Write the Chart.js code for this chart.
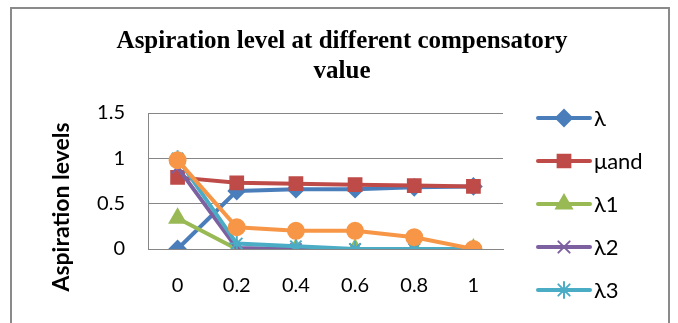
<!DOCTYPE html>
<html lang="en">
<head>
  <meta charset="UTF-8">
  <title>Aspiration level at different compensatory value</title>
  <script src="https://cdn.jsdelivr.net/npm/chart.js"></script>
  <style>
    html, body { margin: 0; padding: 0; background: #fff; overflow: hidden; }
    #frame { position: absolute; left: 10px; top: 7px; width: 656px; height: 340px; border: 2px solid #8a8a8a; }
    #wrap { position: absolute; left: 0; top: 0; width: 678px; height: 323px; }
  </style>
</head>
<body>
<div id="frame"></div>
<div id="wrap"><canvas id="chart" width="678" height="323"></canvas></div>

<script>
  // values
  const categories = ['0', '0.2', '0.4', '0.6', '0.8', '1'];
  const lambda   = [0, 0.64, 0.66, 0.66, 0.68, 0.69];
  const muAnd    = [0.79, 0.73, 0.72, 0.71, 0.70, 0.69];
  const lambda1  = [0.34, 0, 0, 0, 0, 0];
  const lambda2  = [0.90, 0.01, 0, 0, 0, 0];
  const lambda3  = [1.0, 0.06, 0.03, 0, 0, 0];
  const lambda4  = [0.98, 0.24, 0.20, 0.20, 0.13, 0];
  const yTicks   = [0, 0.5, 1, 1.5];
  const titleLines = ['Aspiration level at different compensatory', 'value'];
  const yTitle = 'Aspiration levels';

  const tickFont = 'Lato, "Open Sans", sans-serif';

  const series = [
    { label: 'λ',    data: lambda,  color: '#4a7ebb', point: 'rectRot',  r: 8 },
    { label: 'μand', data: muAnd,   color: '#be4b48', point: 'rect',     r: 9 },
    { label: 'λ1',   data: lambda1, color: '#98b954', point: 'triangle', r: 9 },
    { label: 'λ2',   data: lambda2, color: '#7d60a0', point: 'crossRot', r: 8 },
    { label: 'λ3',   data: lambda3, color: '#4bacc6', point: 'star',     r: 8 },
    { label: 'λ4',   data: lambda4, color: '#f79646', point: 'circle',   r: 8 },
  ];

  // title, y title and the side legend drawn by hand
  const extras = {
    id: 'extras',
    afterDraw(chart) {
      const ctx = chart.ctx;
      ctx.save();

      ctx.fillStyle = '#000';
      ctx.font = 'bold 25px "Liberation Serif", "Times New Roman", serif';
      ctx.textAlign = 'center';
      ctx.textBaseline = 'alphabetic';
      titleLines.forEach((t, i) => ctx.fillText(t, 342, 48 + i * 30));

      // legend: line with marker in the middle, only 5 entries fit
      const x0 = 538, x1 = 590, top = 118, step = 43;
      ctx.textAlign = 'left';
      series.slice(0, 5).forEach((s, i) => {
        const y = top + i * step;
        ctx.strokeStyle = s.color;
        ctx.lineWidth = 4;
        ctx.lineCap = 'round';
        ctx.beginPath();
        ctx.moveTo(x0, y);
        ctx.lineTo(x1, y);
        ctx.stroke();
        ctx.fillStyle = s.color;
        ctx.lineWidth = 2;
        Chart.helpers.drawPoint(ctx, { pointStyle: s.point, radius: s.r, rotation: 0, borderWidth: 2 }, (x0 + x1) / 2, y);
        ctx.fillStyle = '#000';
        ctx.font = '22px ' + tickFont;
        ctx.textBaseline = 'middle';
        ctx.fillText(s.label, x1 + 4, y + 1);
      });

      ctx.translate(62, 207);
      ctx.rotate(-Math.PI / 2);
      ctx.font = 'bold 23px ' + tickFont;
      ctx.textAlign = 'center';
      ctx.textBaseline = 'middle';
      ctx.fillText(yTitle, 0, 0);
      ctx.restore();
    }
  };

  new Chart(document.getElementById('chart'), {
    type: 'line',
    data: {
      labels: categories,
      datasets: series.map((s, i) => ({
        label: s.label,
        data: s.data,
        borderColor: s.color,
        backgroundColor: s.color,
        borderWidth: 4,
        pointStyle: s.point,
        pointRadius: s.r,
        pointBorderWidth: 2,
        pointBorderColor: s.color,
        pointBackgroundColor: s.color,
        tension: 0,
        order: series.length - i,
      })),
    },
    options: {
      responsive: false,
      animation: false,
      layout: { padding: { left: 0, right: 175, top: 113, bottom: 0 } },
      plugins: {
        legend: { display: false },
        tooltip: { enabled: false },
        title: { display: false },
      },
      scales: {
        x: {
          offset: true,
          grid: { display: false, drawTicks: false },
          border: { color: '#868686', width: 1 },
          ticks: { color: '#000', font: { family: tickFont, size: 20 }, padding: 25, maxRotation: 0 },
          afterFit(scale) { scale.height = 323 - 249; },
        },
        y: {
          min: 0,
          max: 1.5,
          afterBuildTicks(scale) { scale.ticks = yTicks.map(v => ({ value: v })); },
          grid: { color: '#868686', lineWidth: 1, drawTicks: false },
          border: { color: '#868686', width: 1 },
          ticks: {
            color: '#000',
            font: { family: tickFont, size: 20 },
            padding: 23,
            callback: (v) => String(v),
          },
          afterFit(scale) { scale.width = 148; },
        },
      },
    },
    plugins: [extras],
  });
</script>
</body>
</html>
